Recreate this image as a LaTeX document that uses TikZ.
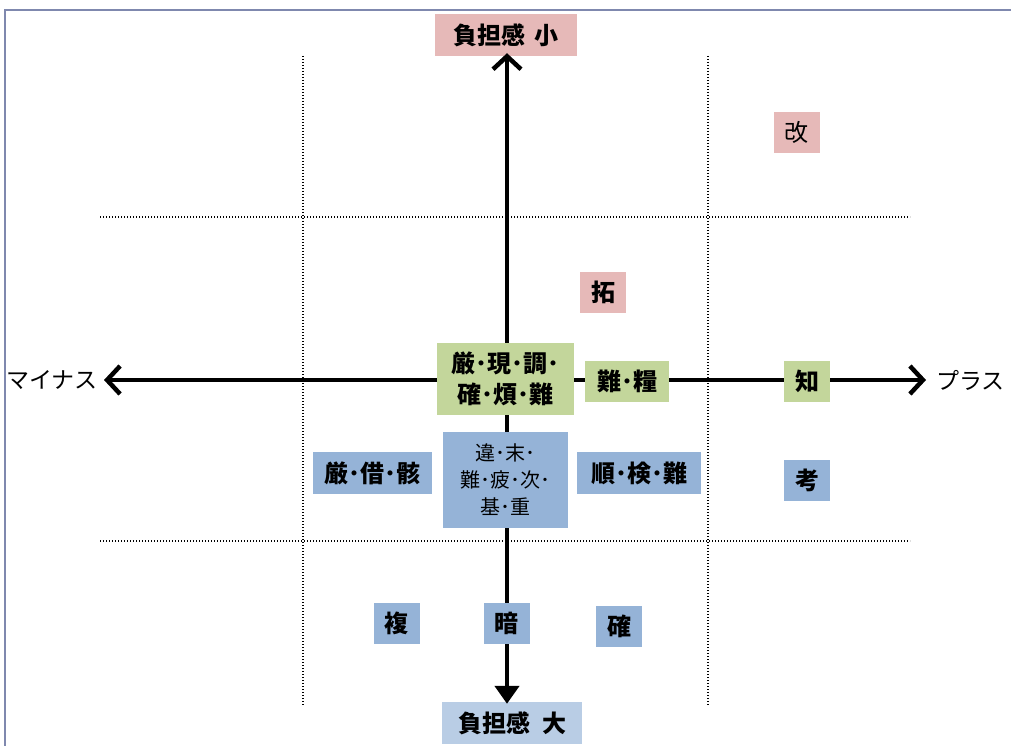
\documentclass[tikz,border=0pt]{standalone}
\usepackage{fontspec}
\setmainfont{Noto Sans CJK JP}
\usetikzlibrary{arrows.meta}
\definecolor{framec}{HTML}{7F88AE}
\definecolor{pinkc}{HTML}{E6B9B8}
\definecolor{greenc}{HTML}{C3D69B}
\definecolor{bluec}{HTML}{95B3D7}
\definecolor{lblue}{HTML}{B9CDE5}
\tikzset{
  lbl/.style={inner sep=0pt, align=center, font=\fontsize{24}{31}\selectfont\bfseries},
  pinkbox/.style={lbl, fill=pinkc},
  greenbox/.style={lbl, fill=greenc},
  bluebox/.style={lbl, fill=bluec},
  onebox/.style={minimum width=46pt, minimum height=41pt},
  axis/.style={line width=4.5pt, line cap=butt},
  barb/.style={-{Straight Barb[length=13pt, width=28pt, line width=4.5pt]}},
  grid/.style={line width=1.3pt, dash pattern=on 1.3pt off 1.7pt},
  side/.style={inner sep=2pt, font=\fontsize{23}{26}\selectfont}
}
\begin{document}
\begin{tikzpicture}[x=1pt, y=-1pt]
\useasboundingbox (0,0) rectangle (1011,746);
\fill[white] (0,0) rectangle (1011,746);
% outer frame
\draw[framec, line width=2.2pt] (5,746) -- (5,10) -- (1011,10);

% dotted grid
\draw[grid] (303,56) -- (303,705);
\draw[grid] (708,56) -- (708,705);
\draw[grid] (100,217) -- (910,217);
\draw[grid] (100,541) -- (910,541);

% axis labels
\node[pinkbox, minimum width=142pt, minimum height=42pt] (top) at (506,35) {負担感\hspace{0.4em}小};
\node[lbl, fill=lblue, minimum width=140pt, minimum height=42pt] (bot) at (512,723) {負担感\hspace{0.5em}大};
\node[side, anchor=east] (minus) at (100,380) {マイナス};
\node[side, anchor=west] (plus) at (934,380) {プラス};

\coordinate (o) at (507,380);
% axes
\draw[axis, barb] (o) -- ([yshift=3pt]top.south -| o);
\draw[axis, -{Triangle[length=18pt, width=24pt]}] (o) -- ([yshift=-2pt]bot.north -| o);
\draw[axis, barb] (o) -- ([xshift=4pt]minus.east);
\draw[axis, barb] (o) -- ([xshift=-8pt]plus.west);

% items
\node[pinkbox, onebox, font=\fontsize{24}{26}\selectfont] (kai) at (796.5,132.5) {改};
\node[pinkbox, onebox] (taku) at (603,292.5) {拓};
\node[greenbox, minimum width=137pt, minimum height=72pt] (g1) at (505.5,379) {厳･現･調･\\確･煩･難};
\node[greenbox, minimum width=84pt, minimum height=41pt] (g2) at (627,381.5) {難･糧};
\node[greenbox, onebox] (chi) at (807,381.5) {知};
\node[bluebox, minimum width=125pt, minimum height=96pt, font=\fontsize{20}{27}\selectfont] (b1) at (505.5,480) {違･末･\\難･疲･次･\\基･重};
\node[bluebox, minimum width=119pt, minimum height=42pt] (b2) at (372.5,473) {厳･借･骸};
\node[bluebox, minimum width=124pt, minimum height=42pt] (b3) at (639,473) {順･検･難};
\node[bluebox, onebox] (kou) at (807,480.5) {考};
\node[bluebox, onebox] (fuku) at (396.5,623.5) {複};
\node[bluebox, onebox] (an) at (506.5,623.5) {暗};
\node[bluebox, onebox] (kaku) at (619,626.5) {確};
\end{tikzpicture}
\end{document}
